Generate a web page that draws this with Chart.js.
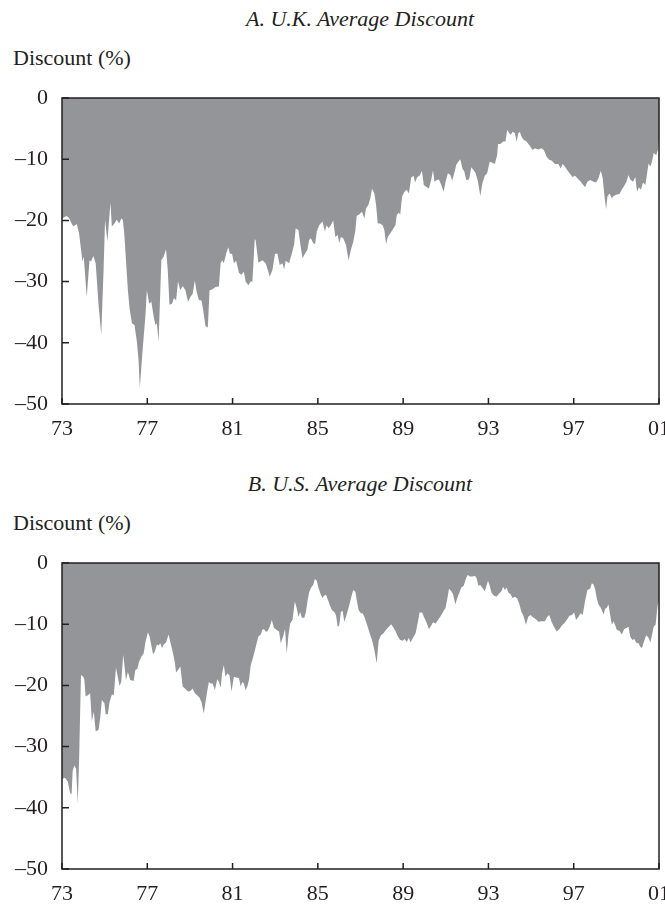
<!DOCTYPE html>
<html>
<head>
<meta charset="utf-8">
<script src="https://cdn.jsdelivr.net/npm/chart.js@4/dist/chart.umd.min.js"></script>
<style>
  html, body { margin: 0; padding: 0; background: #fff; }
  body { width: 665px; height: 907px; overflow: hidden; position: relative; font-family: 'Liberation Serif', serif; color: #231f20; }
  .title { position: absolute; left: 360px; transform: translateX(-50%); white-space: nowrap; font-style: italic; font-size: 22px; line-height: 22px; }
  .ylab { position: absolute; left: 13px; white-space: nowrap; font-size: 22px; line-height: 22px; }
  canvas { position: absolute; left: 0; }
</style>
</head>
<body>
<div class="title" style="top:8px">A. U.K. Average Discount</div>
<div class="ylab" style="top:47px">Discount (%)</div>
<canvas id="ukChart" width="665" height="352" style="top:88px"></canvas>

<div class="title" style="top:473px">B. U.S. Average Discount</div>
<div class="ylab" style="top:512px">Discount (%)</div>
<canvas id="usChart" width="665" height="352" style="top:553px"></canvas>

<script>
// ---- tick labels ----
const xTickYears  = [73, 77, 81, 85, 89, 93, 97, 101];
const xTickLabels = ['73', '77', '81', '85', '89', '93', '97', '01'];
const yTickValues = [0, -10, -20, -30, -40, -50];

// ---- Panel A: U.K. average discount (%) ----
const ukYears = [73.00,73.22,73.33,73.45,73.53,73.69,73.80,73.96,74.02,74.16,74.29,74.36,74.47,74.58,74.71,74.84,74.95,75.02,75.13,75.27,75.34,75.46,75.57,75.68,75.78,75.85,75.92,76.00,76.09,76.17,76.28,76.40,76.51,76.59,76.65,76.78,76.91,76.98,77.09,77.19,77.30,77.38,77.45,77.53,77.66,77.77,77.88,77.96,78.04,78.16,78.25,78.35,78.44,78.55,78.66,78.79,78.91,79.02,79.13,79.23,79.31,79.42,79.54,79.62,79.73,79.84,79.92,80.04,80.20,80.36,80.44,80.51,80.59,80.70,80.80,80.87,80.98,81.06,81.17,81.30,81.42,81.53,81.61,81.74,81.85,81.93,82.04,82.08,82.21,82.40,82.55,82.68,82.74,82.87,82.99,83.10,83.21,83.34,83.42,83.49,83.65,83.78,83.89,83.96,84.09,84.17,84.28,84.40,84.51,84.59,84.67,84.78,84.87,84.95,85.06,85.22,85.33,85.41,85.50,85.61,85.72,85.82,85.93,86.00,86.08,86.19,86.32,86.44,86.55,86.66,86.76,86.82,86.95,87.07,87.18,87.26,87.37,87.46,87.54,87.65,87.73,87.81,87.92,88.04,88.12,88.20,88.28,88.40,88.51,88.64,88.70,88.80,88.86,88.95,89.06,89.17,89.27,89.38,89.49,89.56,89.66,89.77,89.88,89.97,90.08,90.21,90.32,90.40,90.47,90.58,90.68,90.79,90.90,90.99,91.10,91.21,91.30,91.42,91.49,91.59,91.68,91.78,91.87,91.96,92.09,92.20,92.31,92.40,92.51,92.62,92.72,92.83,92.94,93.06,93.19,93.30,93.41,93.45,93.56,93.69,93.80,93.88,93.97,94.05,94.13,94.24,94.32,94.40,94.47,94.55,94.63,94.79,94.94,95.07,95.18,95.34,95.49,95.60,95.73,95.85,95.96,96.12,96.28,96.39,96.48,96.59,96.70,96.83,96.95,97.06,97.17,97.33,97.45,97.53,97.64,97.77,97.93,98.05,98.16,98.27,98.36,98.43,98.52,98.58,98.68,98.79,98.87,98.99,99.15,99.26,99.34,99.46,99.57,99.65,99.78,99.89,99.97,100.06,100.15,100.25,100.36,100.43,100.51,100.59,100.67,100.75,100.87,100.95,101.00];
const ukDiscount = [-19.7,-19.3,-19.6,-20.5,-21.0,-20.6,-22.1,-26.7,-25.9,-32.5,-26.5,-26.7,-25.8,-27.0,-33.6,-38.7,-28.1,-19.9,-23.5,-17.1,-21.0,-20.5,-19.9,-20.5,-19.7,-19.9,-22.1,-26.5,-31.4,-34.4,-36.8,-37.1,-39.8,-42.8,-47.4,-41.2,-35.7,-31.4,-33.6,-33.3,-35.7,-37.1,-36.8,-39.8,-26.5,-25.9,-24.7,-28.1,-33.8,-33.6,-32.7,-33.1,-30.0,-31.4,-30.7,-31.4,-33.3,-32.5,-32.0,-29.8,-31.6,-33.0,-33.1,-34.6,-37.3,-37.5,-31.4,-31.3,-30.9,-30.8,-27.0,-26.5,-27.0,-25.4,-24.4,-25.4,-25.5,-27.0,-26.6,-28.6,-28.9,-28.4,-30.0,-30.6,-30.0,-30.0,-23.1,-23.2,-26.9,-26.5,-27.0,-28.4,-29.2,-28.1,-25.5,-25.4,-27.3,-27.0,-28.0,-26.6,-27.0,-25.4,-23.9,-21.3,-21.6,-23.7,-26.2,-25.4,-24.8,-23.2,-22.9,-23.7,-23.9,-21.8,-20.8,-20.2,-21.8,-20.8,-21.3,-20.8,-20.0,-22.7,-22.4,-23.7,-22.7,-22.9,-24.0,-26.5,-24.8,-23.5,-21.6,-19.3,-19.0,-18.6,-19.7,-18.0,-17.5,-16.4,-14.8,-15.6,-17.5,-20.5,-20.5,-20.8,-21.6,-23.9,-22.7,-22.1,-21.5,-20.8,-19.1,-18.7,-19.1,-16.1,-15.3,-15.0,-15.6,-13.0,-12.7,-13.8,-12.9,-12.7,-11.9,-14.2,-14.5,-14.8,-13.3,-11.8,-13.7,-13.4,-13.3,-14.2,-15.3,-13.7,-12.3,-12.6,-13.5,-12.0,-10.9,-10.4,-10.0,-11.5,-12.0,-13.4,-13.3,-11.3,-11.8,-12.3,-13.7,-16.0,-13.9,-12.7,-12.3,-10.4,-10.6,-10.8,-9.3,-7.5,-7.5,-7.1,-7.1,-5.2,-5.7,-6.0,-5.5,-5.7,-7.1,-5.8,-5.5,-6.3,-6.8,-7.1,-7.8,-8.5,-8.2,-8.4,-8.2,-8.5,-9.6,-10.1,-10.2,-10.8,-10.8,-11.5,-10.8,-11.2,-11.8,-12.4,-12.9,-12.7,-13.1,-13.7,-14.2,-14.6,-13.7,-13.4,-13.7,-13.8,-13.1,-11.9,-13.1,-15.6,-18.2,-16.1,-15.6,-16.4,-16.0,-15.8,-15.7,-14.9,-14.5,-13.8,-12.6,-13.3,-13.7,-12.9,-15.3,-14.6,-15.0,-13.8,-14.2,-12.6,-10.7,-11.2,-10.4,-9.0,-9.3,-8.5,-6.8];

// ---- Panel B: U.S. average discount (%) ----
const usYears = [73.00,73.14,73.27,73.38,73.45,73.50,73.58,73.66,73.74,73.80,73.89,74.00,74.05,74.11,74.21,74.32,74.40,74.49,74.58,74.71,74.79,74.87,74.99,75.05,75.15,75.23,75.34,75.43,75.53,75.60,75.70,75.78,75.87,75.93,76.00,76.09,76.20,76.36,76.44,76.53,76.62,76.72,76.83,76.91,77.03,77.11,77.19,77.27,77.35,77.45,77.53,77.61,77.69,77.77,77.88,78.00,78.08,78.19,78.29,78.35,78.44,78.55,78.66,78.79,78.91,79.02,79.13,79.23,79.34,79.45,79.54,79.65,79.73,79.81,79.89,79.96,80.07,80.17,80.28,80.36,80.44,80.51,80.59,80.67,80.76,80.86,80.95,81.06,81.17,81.30,81.38,81.46,81.53,81.61,81.69,81.77,81.85,81.93,82.00,82.11,82.21,82.32,82.40,82.47,82.55,82.63,82.74,82.84,82.94,83.05,83.18,83.26,83.37,83.46,83.54,83.62,83.70,83.81,83.92,84.01,84.09,84.17,84.25,84.36,84.44,84.51,84.59,84.67,84.78,84.86,84.95,85.03,85.14,85.22,85.30,85.38,85.45,85.56,85.66,85.77,85.85,85.93,86.00,86.08,86.16,86.24,86.32,86.40,86.47,86.57,86.66,86.76,86.82,86.91,87.02,87.10,87.18,87.26,87.38,87.46,87.54,87.65,87.76,87.85,87.96,88.07,88.20,88.33,88.44,88.55,88.64,88.75,88.86,88.98,89.06,89.17,89.27,89.34,89.45,89.58,89.69,89.77,89.89,89.97,90.08,90.21,90.32,90.40,90.52,90.63,90.74,90.87,90.99,91.07,91.15,91.26,91.34,91.45,91.53,91.65,91.73,91.84,91.96,92.04,92.12,92.25,92.36,92.44,92.53,92.62,92.72,92.83,92.91,92.98,93.06,93.14,93.25,93.38,93.50,93.61,93.69,93.77,93.85,93.93,94.04,94.13,94.24,94.35,94.44,94.55,94.63,94.76,94.87,94.98,95.10,95.23,95.34,95.49,95.65,95.76,95.85,95.96,96.07,96.20,96.33,96.44,96.55,96.67,96.80,96.91,97.02,97.11,97.22,97.33,97.42,97.53,97.64,97.77,97.85,97.93,98.00,98.08,98.16,98.27,98.40,98.47,98.55,98.63,98.71,98.79,98.87,98.95,99.02,99.15,99.26,99.37,99.49,99.57,99.65,99.75,99.84,99.93,100.04,100.12,100.20,100.28,100.40,100.51,100.59,100.67,100.75,100.84,100.94,101.00];
const usDiscount = [-35.3,-35.1,-35.7,-37.6,-37.8,-34.0,-33.1,-33.6,-39.3,-32.5,-18.3,-18.6,-19.1,-21.8,-21.6,-21.3,-25.9,-24.3,-27.5,-27.3,-25.4,-22.4,-22.9,-24.7,-24.7,-22.7,-21.5,-21.6,-17.1,-18.3,-20.1,-19.4,-15.0,-16.7,-19.1,-17.8,-19.1,-19.3,-17.5,-17.3,-16.1,-15.3,-14.8,-13.0,-11.3,-12.0,-13.5,-14.9,-14.5,-13.3,-13.5,-13.1,-13.9,-13.3,-13.0,-11.7,-12.9,-14.5,-16.2,-17.9,-17.5,-16.9,-20.2,-20.6,-21.0,-20.9,-20.5,-21.3,-21.6,-22.0,-22.7,-24.6,-22.7,-21.0,-19.4,-19.7,-19.7,-20.8,-19.0,-19.4,-20.4,-18.0,-16.7,-18.6,-18.0,-18.4,-21.0,-18.6,-18.7,-18.8,-20.2,-19.4,-19.7,-20.8,-20.2,-19.1,-16.7,-15.8,-14.9,-13.4,-12.0,-11.7,-10.9,-10.8,-11.2,-11.2,-10.4,-9.3,-10.6,-10.9,-11.2,-13.1,-12.0,-10.8,-14.8,-11.8,-9.9,-9.3,-6.3,-7.4,-8.8,-8.0,-8.9,-9.0,-8.0,-6.3,-4.8,-4.1,-3.6,-2.6,-2.9,-4.1,-5.2,-5.7,-5.3,-5.2,-5.8,-6.9,-7.7,-8.0,-8.5,-10.4,-10.2,-8.0,-7.8,-9.6,-8.8,-7.8,-6.9,-5.5,-4.4,-4.7,-6.0,-7.7,-8.2,-8.2,-8.8,-9.6,-10.9,-11.8,-12.6,-14.2,-16.4,-12.7,-11.8,-11.5,-10.9,-10.4,-10.0,-10.6,-11.1,-12.0,-12.6,-12.7,-12.4,-12.9,-12.2,-13.0,-12.3,-11.5,-9.7,-8.1,-8.1,-8.8,-9.6,-10.8,-10.2,-9.7,-9.9,-9.3,-8.8,-8.0,-7.3,-5.9,-4.2,-4.6,-5.1,-6.8,-5.8,-4.7,-4.0,-3.7,-2.4,-1.9,-2.2,-2.2,-2.1,-2.4,-3.7,-3.6,-4.1,-4.6,-3.7,-2.9,-3.7,-4.8,-5.3,-5.5,-5.0,-4.6,-3.9,-4.4,-4.0,-4.8,-5.1,-5.7,-5.5,-5.8,-6.6,-8.0,-8.5,-10.1,-8.8,-8.5,-8.9,-9.2,-9.6,-9.5,-9.5,-8.8,-8.5,-9.6,-10.4,-11.2,-10.8,-10.2,-9.9,-9.3,-8.6,-8.5,-8.1,-9.3,-8.8,-8.2,-8.5,-6.3,-4.4,-4.2,-3.3,-3.5,-4.2,-5.7,-6.8,-7.3,-8.4,-7.5,-7.3,-6.8,-8.5,-10.1,-9.5,-10.2,-10.9,-11.1,-11.7,-10.8,-10.6,-10.4,-12.0,-12.6,-12.4,-13.0,-13.1,-13.7,-13.9,-13.0,-11.8,-12.2,-13.0,-11.8,-10.4,-10.1,-6.8,-6.3];

// ---- styling ----
const INK = '#231f20';
const FILL = '#939598';
const FONT = { family: "'Liberation Serif', serif", size: 22 };

const framePlugin = {
  id: 'frame',
  afterDatasetsDraw(chart) {
    const { ctx, chartArea: a, scales: { x, y } } = chart;
    ctx.save();
    ctx.strokeStyle = INK;
    ctx.lineWidth = 1.5;
    ctx.strokeRect(a.left, a.top, a.right - a.left, a.bottom - a.top);
    ctx.beginPath();
    y.ticks.forEach(t => {
      const py = y.getPixelForValue(t.value);
      ctx.moveTo(a.left, py); ctx.lineTo(a.left + 7, py);
    });
    x.ticks.forEach(t => {
      const px = x.getPixelForValue(t.value);
      ctx.moveTo(px, a.bottom); ctx.lineTo(px, a.bottom - 6);
    });
    ctx.stroke();
    ctx.restore();
  }
};

function makeChart(id, years, values) {
  const points = years.map((yr, i) => ({ x: yr, y: values[i] }));
  return new Chart(document.getElementById(id), {
    type: 'line',
    data: {
      datasets: [{
        data: points,
        fill: 'origin',
        backgroundColor: FILL,
        borderWidth: 0,
        borderColor: FILL,
        pointRadius: 0,
        tension: 0
      }]
    },
    options: {
      responsive: false,
      animation: false,
      events: [],
      layout: { padding: { top: 10, right: 6, left: 0, bottom: 0 } },
      plugins: { legend: { display: false }, tooltip: { enabled: false }, title: { display: false } },
      scales: {
        x: {
          type: 'linear',
          min: 73, max: 101,
          grid: { display: false, drawTicks: false },
          border: { display: false },
          afterBuildTicks: s => { s.ticks = xTickYears.map(v => ({ value: v })); },
          afterFit: s => { s.height = 36; s.paddingLeft = 0; s.paddingRight = 0; },
          ticks: {
            autoSkip: false, maxRotation: 0, minRotation: 0,
            padding: 12, color: INK, font: FONT,
            callback: v => xTickLabels[xTickYears.indexOf(v)]
          }
        },
        y: {
          type: 'linear',
          min: -50, max: 0,
          grid: { display: false, drawTicks: false },
          border: { display: false },
          afterBuildTicks: s => { s.ticks = yTickValues.map(v => ({ value: v })); },
          afterFit: s => { s.width = 62; s.paddingTop = 0; s.paddingBottom = 0; },
          ticks: {
            padding: 14, color: INK, font: FONT,
            callback: v => v < 0 ? '\u2013' + Math.abs(v) : String(v)
          }
        }
      }
    },
    plugins: [framePlugin]
  });
}

makeChart('ukChart', ukYears, ukDiscount);
makeChart('usChart', usYears, usDiscount);
</script>
</body>
</html>
